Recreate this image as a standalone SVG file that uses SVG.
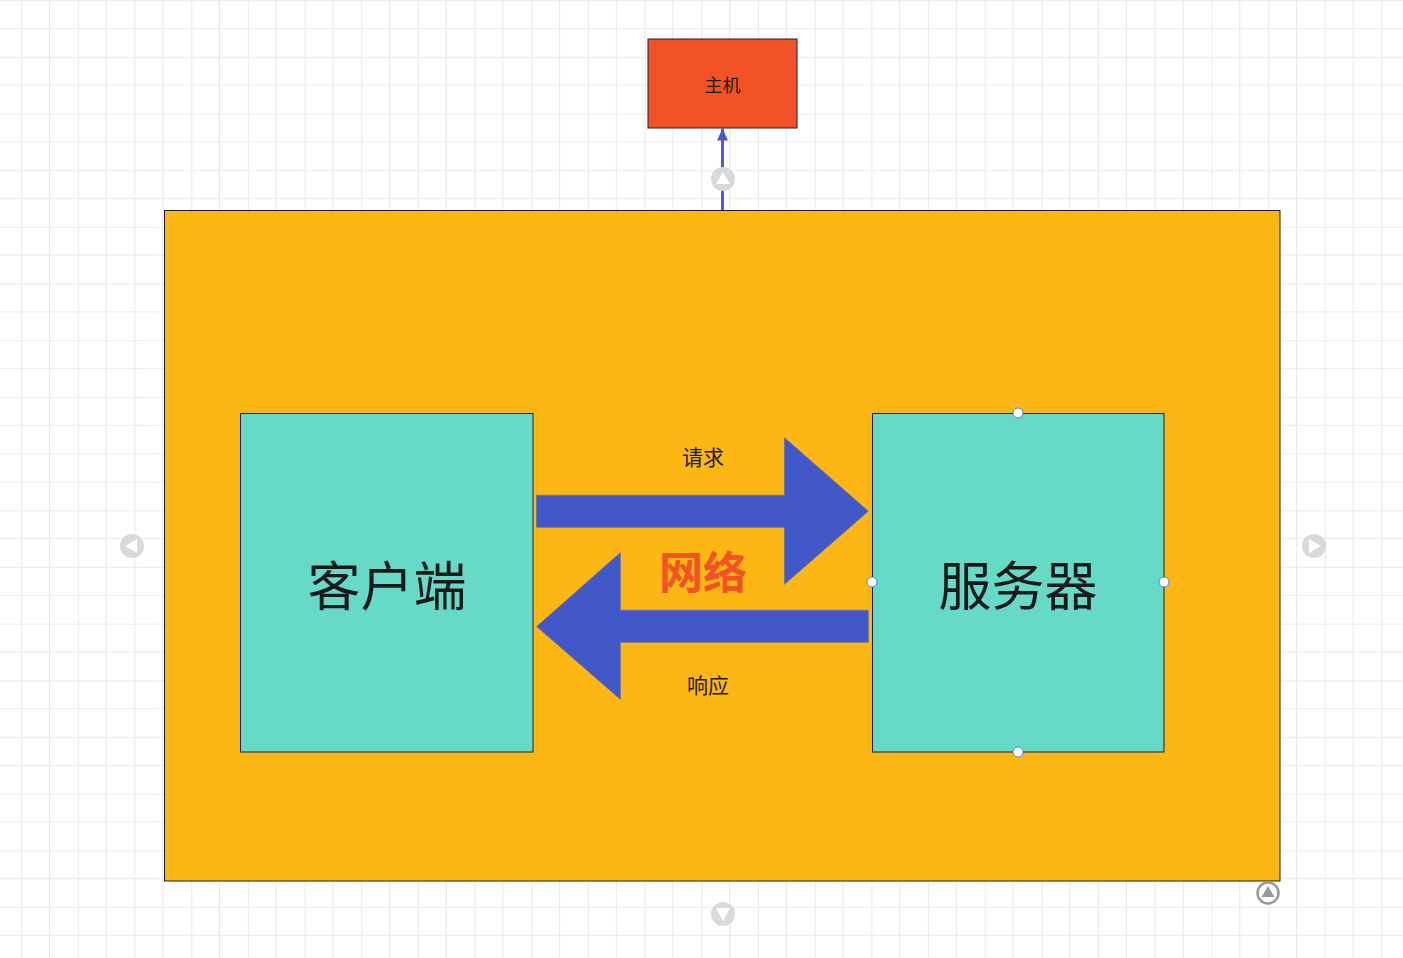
<svg xmlns="http://www.w3.org/2000/svg" width="1403" height="958" viewBox="0 0 1403 958">
<defs>
<pattern id="grid" x="-6.68" y="-27.68" width="56.68" height="56.68" patternUnits="userSpaceOnUse">
<line x1="28.34" y1="0" x2="28.34" y2="56.68" stroke="#ececec" stroke-width="1.2"/>
<line x1="0" y1="28.34" x2="56.68" y2="28.34" stroke="#ececec" stroke-width="1.2"/>
<line x1="56.68" y1="0" x2="56.68" y2="56.68" stroke="#d9d9d9" stroke-width="1.2"/>
<line x1="0" y1="56.68" x2="56.68" y2="56.68" stroke="#d9d9d9" stroke-width="1.2"/>
</pattern>
<marker id="ah" markerWidth="12" markerHeight="11" refX="12" refY="5.5" orient="auto" markerUnits="userSpaceOnUse" viewBox="0 0 12 11">
<path d="M0,0 L12,5.5 L0,11 Z" fill="#4257c8"/>
</marker>
</defs>
<style>
.box{stroke:#1b1f3b;stroke-width:1}
.cjk{font-family:"Noto Sans CJK SC","Noto Sans",sans-serif;text-anchor:middle;dominant-baseline:central;fill:#1a1a1a}
.big{fill:#4257c8;stroke:#6070b0;stroke-width:0.8}
.ctl{fill:#d9d9d9}
.tri{fill:#ffffff}
.handle{fill:#ffffff;stroke:#3d8bea;stroke-width:1}
</style>
<rect width="1403" height="958" fill="#ffffff"/>
<rect width="1403" height="958" fill="url(#grid)"/>

<g id="connectors">
<line x1="722.5" y1="210" x2="722.5" y2="128.5" stroke="#4257c8" stroke-width="2.8" marker-end="url(#ah)"/>
</g>

<g id="host">
<rect class="box" x="648" y="39" width="149" height="89" fill="#f25226"/>
<text class="cjk" x="722.5" y="84" font-size="18">主机</text>
</g>

<g id="container">
<rect class="box" x="164.5" y="210.5" width="1115.5" height="670.5" fill="#fdb714"/>
</g>

<g id="client">
<rect class="box" x="240.5" y="413.5" width="292.5" height="338.5" fill="#66d9c7"/>
<text class="cjk" x="387" y="583" font-size="53">客户端</text>
</g>

<g id="server">
<rect class="box" x="872.5" y="413.5" width="291.5" height="338.5" fill="#66d9c7"/>
<text class="cjk" x="1018" y="583" font-size="53">服务器</text>
</g>

<g id="request-arrow">
<polygon class="big" points="536.5,495.3 784.5,495.3 784.5,437.7 868.3,511.2 784.5,584.3 784.5,527.3 536.5,527.3"/>
<text class="cjk" x="703" y="455.5" font-size="21">请求</text>
</g>

<g id="response-arrow">
<polygon class="big" points="868.3,610.3 620.3,610.3 620.3,552.7 536.7,626.5 620.3,699.3 620.3,642.3 868.3,642.3"/>
<text class="cjk" x="708" y="683.5" font-size="21">响应</text>
</g>

<g id="network-label">
<text class="cjk" x="703" y="569.5" font-size="44" font-weight="bold" style="fill:#f25226">网络</text>
</g>

<g id="handles">
<circle class="handle" cx="1018" cy="413" r="5"/>
<circle class="handle" cx="872" cy="582" r="5"/>
<circle class="handle" cx="1164" cy="582" r="5"/>
<circle class="handle" cx="1018" cy="752" r="5"/>
</g>

<g id="controls">
<circle class="ctl" cx="723" cy="179" r="12"/>
<polygon class="tri" points="723,172 730,184 716,184"/>
<circle class="ctl" cx="132" cy="546" r="12"/>
<polygon class="tri" points="125,546 137,539 137,553"/>
<circle class="ctl" cx="1314" cy="546" r="12"/>
<polygon class="tri" points="1321,546 1309,539 1309,553"/>
<circle class="ctl" cx="723" cy="914" r="12"/>
<polygon class="tri" points="723,921 716,908 730,908"/>
<circle cx="1268" cy="893" r="10.5" fill="#ffffff" stroke="#999999" stroke-width="2.5"/>
<polygon points="1268,886 1274.5,897 1261.5,897" fill="#999999"/>
</g>
</svg>
